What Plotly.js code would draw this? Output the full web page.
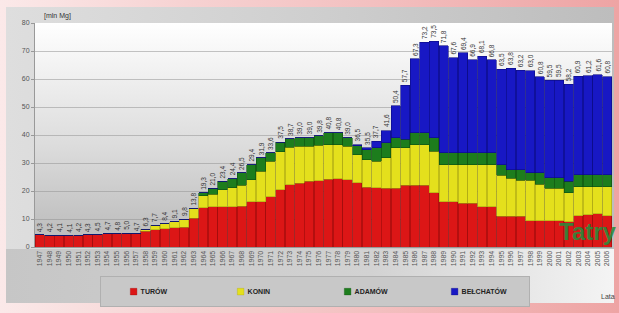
<!DOCTYPE html>
<html><head><meta charset="utf-8">
<script src="https://cdn.plot.ly/plotly-3.0.1.min.js"></script>
<style>
html,body{margin:0;padding:0;}
body{width:619px;height:313px;position:relative;overflow:hidden;
 background:linear-gradient(90deg,#fbe9e9 0%,#f6d2d2 30%,#f3c0c0 60%,#eea4a4 100%);}
#panel{position:absolute;left:6px;top:7px;width:608px;height:296px;
 background:linear-gradient(90deg,#dedede 0%,#cfcfcf 50%,#bdbdbd 100%);}
#bottom{position:absolute;left:6px;top:249px;width:608px;height:54px;
 background:linear-gradient(90deg,#c6c6c6 0%,#d2d2d2 60%,#f4f4f4 100%);}
#plotbg{position:absolute;left:35px;top:23px;width:577px;height:224px;
 background:linear-gradient(180deg,#ffffff 0%,#f2f2f2 20%,#dcdcdc 55%,#c4c4c4 85%,#bababa 100%);}
#chart{position:absolute;left:0;top:0;width:619px;height:313px;}
#chart .legendpoints path{transform:translate(33px,0) scale(0.55);}
</style></head>
<body>
<div id="panel"></div><div id="bottom"></div><div id="plotbg"></div>
<div id="chart"></div>
<script>
const years = ["1947","1948","1949","1950","1951","1952","1953","1954","1955","1956",
 "1957","1958","1959","1960","1961","1962","1963","1964","1965","1966",
 "1967","1968","1969","1970","1971","1972","1973","1974","1975","1976",
 "1977","1978","1979","1980","1981","1982","1983","1984","1985","1986",
 "1987","1988","1989","1990","1991","1992","1993","1994","1995","1996",
 "1997","1998","1999","2000","2001","2002","2003","2004","2005","2006"];
const turow = [4.3,4.2,4.1,4.1,4.2,4.3,4.5,4.7,4.8,5.0,
 4.7,5.6,6.2,6.5,6.8,7.0,10.2,14.0,14.3,14.4,
 14.4,14.5,16.2,16.2,18.0,20.5,22.2,22.8,23.4,23.6,
 24.2,24.3,24.0,23.0,21.3,21.2,21.0,21.0,22.0,22.0,
 22.0,19.4,16.2,16.2,15.7,15.7,14.4,14.4,11.0,11.0,
 11.0,9.3,9.3,9.3,9.3,9.0,11.2,11.5,11.8,11.2];
const konin = [0,0,0,0,0,0,0,0,0,0,
 0,0.7,1.5,1.9,2.3,2.8,3.6,4.3,4.5,6.0,
 6.8,7.5,7.8,10.8,12.6,13.5,13.5,13.2,12.6,12.8,
 12.4,12.3,12.0,10.0,9.8,9.4,10.9,14.5,13.5,14.6,
 14.6,14.8,13.2,13.2,13.7,13.7,15.0,15.0,14.7,13.5,
 12.9,14.6,13.2,11.7,11.7,10.4,10.4,10.1,9.8,10.4];
const adamow = [0,0,0,0,0,0,0,0,0,0,
 0,0,0,0,0,0,0,1.0,2.2,3.0,
 3.2,4.5,5.4,4.9,3.0,3.5,3.0,3.0,3.0,3.4,
 4.2,4.2,3.0,3.2,3.6,4.9,5.3,3.5,2.9,4.2,
 4.2,4.8,4.3,4.3,4.3,4.3,4.3,4.3,3.7,3.1,
 3.7,2.6,4.0,3.7,3.7,4.0,4.2,4.2,4.2,4.2];
const belchatow = [0,0,0,0,0,0,0,0,0,0,
 0,0,0,0,0,0,0,0,0,0,
 0,0,0,0,0,0,0,0,0,0,
 0,0,0,0.3,0.8,2.2,4.4,11.4,19.3,26.5,
 32.4,34.5,38.1,33.9,35.7,33.2,34.4,33.1,34.1,36.2,
 35.6,36.5,34.3,34.8,34.8,34.8,35.1,35.4,35.8,35.0];
const seriesNames = ["TURÓW","KONIN","ADAMÓW","BEŁCHATÓW"];

const totals = years.map((y,i)=>+(turow[i]+konin[i]+adamow[i]+belchatow[i]).toFixed(1));
const fmt = v => v.toFixed(1).replace('.', ',');

const colors = ["#dc1616","#e4e01c","#1d7d1d","#1818c4"];
const edges  = ["#9a0c0c","#a8a414","#0f4f0f","#0c0c80"];
const vals = [turow,konin,adamow,belchatow];
const traces = vals.map((v,k)=>({
  type:'bar', name:seriesNames[k], x:years, y:v,
  marker:{color:colors[k], line:{color:edges[k], width:0.6}},
  hoverinfo:'x+y+name'
}));

const FF = 'Liberation Sans, Arial, sans-serif';
const annots = years.map((y,i)=>({
  x:i, y:totals[i], xref:'x', yref:'y', text:fmt(totals[i]),
  showarrow:false, textangle:-90, yanchor:'bottom', yshift:1,
  font:{family:FF, size:6.5, color:'#333'}
}));
annots.push({xref:'paper', yref:'paper', x:0.012, y:1.005, xanchor:'left', yanchor:'bottom',
  text:'[mln Mg]', showarrow:false, font:{family:FF, size:7, color:'#333'}});
annots.push({xref:'paper', yref:'paper', x:1.012, y:0.0, xanchor:'right', yanchor:'bottom',
  text:'<b>Tatry</b>', showarrow:false, font:{family:FF, size:24, color:'rgba(40,140,60,0.9)'}});
annots.push({xref:'paper', yref:'paper', x:0.977, y:-0.219, xanchor:'left', yanchor:'middle',
  text:'Lata', showarrow:false, font:{family:FF, size:7, color:'#444'}});

const layout = {
  width:619, height:313,
  margin:{l:35, r:7, t:23, b:66, autoexpand:false},
  paper_bgcolor:'rgba(0,0,0,0)', plot_bgcolor:'rgba(0,0,0,0)',
  barmode:'stack', bargap:0.04,
  font:{family:FF, size:7, color:'#444'},
  xaxis:{type:'category', tickangle:-90, tickfont:{size:7, color:'#555'},
    showline:true, linecolor:'#999', ticks:'', range:[-0.5,59.5], automargin:false},
  yaxis:{range:[0,80], dtick:10, tickfont:{size:7, color:'#555'},
    gridcolor:'rgba(150,150,150,0.55)', gridwidth:1, showline:true, linecolor:'#999',
    ticks:'outside', ticklen:3, tickcolor:'#999', zeroline:false, automargin:false},
  showlegend:true,
  legend:{orientation:'h', x:0.112, xanchor:'left', y:-0.13, yanchor:'top',
    bgcolor:'#c8c8c8', bordercolor:'#b0b0b0', borderwidth:1,
    entrywidth:62, entrywidthmode:'pixels', traceorder:'normal', itemwidth:30,
    font:{size:7, color:'#222', family:FF, weight:'bold'}},
  annotations:annots
};
Plotly.newPlot('chart', traces, layout, {displayModeBar:false, staticPlot:true});
</script>
</body></html>
